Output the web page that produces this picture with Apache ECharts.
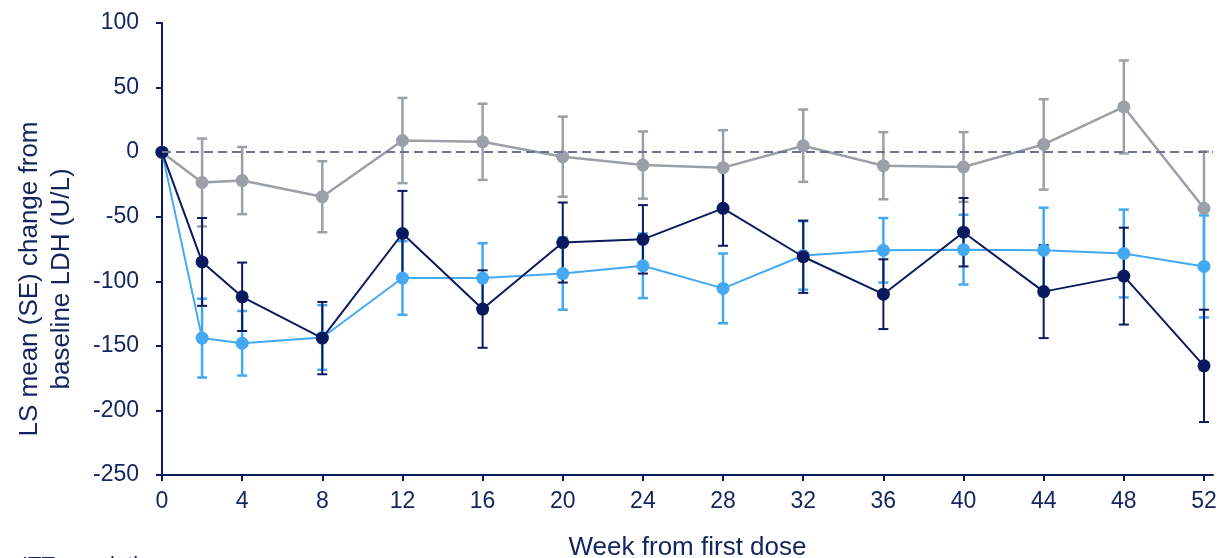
<!DOCTYPE html>
<html>
<head>
<meta charset="utf-8">
<script src="https://cdn.jsdelivr.net/npm/echarts@6/dist/echarts.min.js"></script>
<style>
  html, body { margin: 0; padding: 0; background: #fff; }
  #chart { width: 1225px; height: 558px; }
</style>
</head>
<body>
<div id="chart"></div>
<script>
// weeks from first dose
const weeks = [0, 2, 4, 8, 12, 16, 20, 24, 28, 32, 36, 40, 44, 48, 52];
const weekTicks = [0, 4, 8, 12, 16, 20, 24, 28, 32, 36, 40, 44, 48, 52];
const yTicks = [100, 50, 0, -50, -100, -150, -200, -250];

// gray group
const grayMean = [0, -23.5, -22, -34.5, 9, 8, -3.5, -10, -12, 5, -10.5, -11.5, 6, 35, -43.5];
const graySE = [0, 34, 26, 27.5, 33, 29.5, 31, 26, 29, 28, 26, 27, 35, 36, 44];
// light blue group
const lightMean = [0, -144, -148, -143.5, -97.5, -97.5, -94, -88, -105.5, -80, -76, -75.5, -76, -78.5, -88.5];
const lightSE = [0, 30.5, 25, 25, 28.5, 27, 28, 25, 27, 26.5, 25, 27, 33, 34, 39.5];
// navy group
const navyMean = [0, -85, -112, -144, -63, -121.5, -70, -67.5, -43.5, -81, -110, -62, -108, -96, -165.5];
const navySE = [0, 34, 26.5, 28, 33, 30, 31, 26.5, 29, 28, 27, 26.5, 36, 37.5, 43.5];

const NAVY = '#0b1a5e';
const LIGHT = '#43a9f1';
const GRAY = '#9a9fa8';
const TEXT = '#13245f';
const FONT = 'Liberation Sans';

const pts = (mean) => weeks.map((w, i) => [w, mean[i]]);
const bars = (mean, se) => weeks.map((w, i) => [w, mean[i] - se[i], mean[i] + se[i]]);

function errorSeries(mean, se, color, width) {
  return {
    type: 'custom',
    data: bars(mean, se).filter(d => d[2] !== d[1]),
    encode: { x: 0, y: [1, 2] },
    z: 1,
    silent: true,
    renderItem: (params, api) => {
      const lo = api.coord([api.value(0), api.value(1)]);
      const hi = api.coord([api.value(0), api.value(2)]);
      const cap = 5;
      const style = { stroke: color, lineWidth: width, fill: null };
      return {
        type: 'group',
        children: [
          { type: 'line', shape: { x1: lo[0], y1: lo[1], x2: hi[0], y2: hi[1] }, style },
          { type: 'line', shape: { x1: lo[0] - cap, y1: lo[1], x2: lo[0] + cap, y2: lo[1] }, style },
          { type: 'line', shape: { x1: hi[0] - cap, y1: hi[1], x2: hi[0] + cap, y2: hi[1] }, style }
        ]
      };
    }
  };
}

function lineSeries(mean, color, width, z) {
  return {
    type: 'line',
    data: pts(mean),
    symbol: 'circle',
    symbolSize: 13,
    z: z,
    lineStyle: { color: color, width: width },
    itemStyle: { color: color },
    emphasis: { disabled: true }
  };
}

const chart = echarts.init(document.getElementById('chart'));
chart.setOption({
  animation: false,
  grid: { left: 162, right: 12, top: 23, bottom: 83, outerBoundsMode: 'none', containLabel: false },
  xAxis: {
    type: 'value',
    min: 0,
    max: 52.45,
    name: 'Week from first dose',
    nameLocation: 'middle',
    nameGap: 60,
    nameTextStyle: { color: TEXT, fontSize: 26, fontFamily: FONT },
    axisLine: { onZero: false, lineStyle: { color: NAVY, width: 2 } },
    axisTick: { customValues: weekTicks, length: 6, lineStyle: { color: NAVY, width: 2 } },
    axisLabel: { customValues: weekTicks, color: TEXT, fontSize: 23, margin: 15, fontFamily: FONT },
    splitLine: { show: false }
  },
  yAxis: {
    type: 'value',
    min: -250,
    max: 100,
    interval: 50,
    axisLine: { show: true, onZero: false, lineStyle: { color: NAVY, width: 2 } },
    axisTick: { show: true, length: 6, lineStyle: { color: NAVY, width: 2 } },
    axisLabel: { color: TEXT, fontSize: 23, margin: 23, fontFamily: FONT,
      formatter: v => yTicks.includes(v) ? String(v) : '' },
    splitLine: { show: false }
  },
  graphic: [{
    type: 'text',
    x: 46,
    y: 279,
    rotation: Math.PI / 2,
    style: {
      text: 'LS mean (SE) change from\nbaseline LDH (U/L)',
      fill: TEXT, fontSize: 26, lineHeight: 32, fontFamily: FONT,
      align: 'center', verticalAlign: 'middle'
    }
  }, {
    type: 'text',
    left: 22,
    top: 555,
    style: { text: 'ITT population', fill: TEXT, fontSize: 22, fontFamily: FONT }
  }],
  series: [
    errorSeries(grayMean, graySE, GRAY, 2.5),
    errorSeries(lightMean, lightSE, LIGHT, 2.5),
    errorSeries(navyMean, navySE, NAVY, 2),
    Object.assign(lineSeries(grayMean, GRAY, 2.5, 2), {
      markLine: {
        silent: true,
        symbol: 'none',
        label: { show: false },
        lineStyle: { color: '#6a7290', type: [9, 5], width: 1.8 },
        data: [{ yAxis: 0 }]
      }
    }),
    lineSeries(lightMean, LIGHT, 2, 3),
    lineSeries(navyMean, NAVY, 2, 4)
  ]
});
</script>
</body>
</html>
